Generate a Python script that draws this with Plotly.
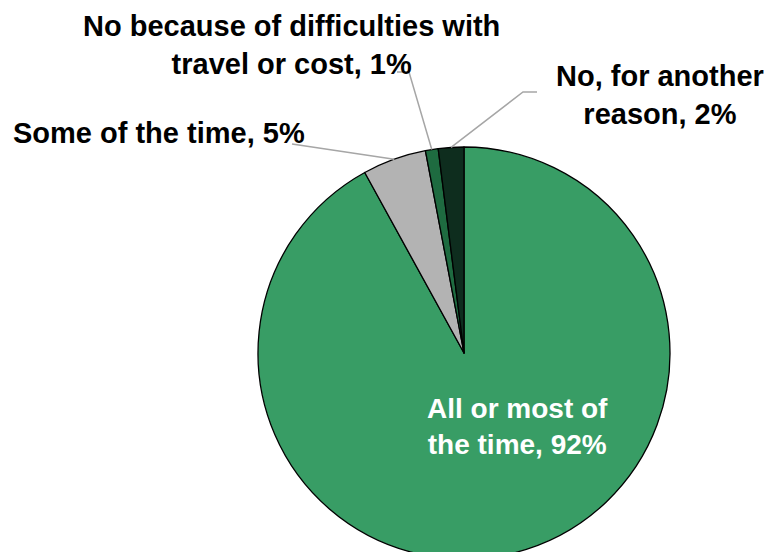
import math
import plotly.graph_objects as go

# Survey responses, in clockwise order from 12 o'clock
labels = [
    "All or most of<br>the time",
    "Some of the time",
    "No because of difficulties with<br>travel or cost",
    "No, for another<br>reason",
]
values = [92, 5, 1, 2]
colors = ["#389D65", "#B3B3B3", "#1E6B40", "#0E2D1E"]

W, H = 769, 570
CX, CY, R = 464, 353, 206  # pie centre / radius in page pixels (from top-left)


def px(x, y):
    """Page pixel (from top-left) -> paper coordinates."""
    return x / W, (H - y) / H


fig = go.Figure(
    go.Pie(
        labels=labels,
        values=values,
        sort=False,
        direction="clockwise",
        rotation=0,
        marker=dict(colors=colors, line=dict(color="#000000", width=1.3)),
        textinfo="none",
        hoverinfo="label+percent",
        showlegend=False,
        domain=dict(x=[(CX - R) / W, (CX + R) / W], y=[(H - CY - R) / H, (H - CY + R) / H]),
    )
)

# slice mid-angles (degrees clockwise from 12 o'clock), from the data
total = sum(values)
mid = []
acc = 0
for v in values:
    mid.append((acc + v / 2) / total * 360)
    acc += v


def edge(i):
    a = math.radians(mid[i])
    return CX + R * math.sin(a), CY - R * math.cos(a)


# label positions (centre of text block) and leader-line start points
label_pos = {0: (517, 426), 1: (159, 133), 2: (291, 45), 3: (660, 95)}
leaders = {
    1: [(292, 144)],
    2: [(397, 72), (409, 72)],
    3: [(537, 92), (523, 92)],
}

annotations = []
for i, (lab, val) in enumerate(zip(labels, values)):
    x, y = px(*label_pos[i])
    inside = i == 0
    annotations.append(
        dict(
            x=x, y=y, xref="paper", yref="paper",
            text=f"{lab}, {val}%",
            showarrow=False,
            xanchor="center", yanchor="middle",
            align="center",
            font=dict(
                family="Liberation Sans, Arial, sans-serif",
                size=28 if inside else 29,
                color="#FFFFFF" if inside else "#000000",
                weight="bold",
            ),
        )
    )

shapes = []
for i, pts in leaders.items():
    path_pts = pts + [edge(i)]
    d = ""
    for k, (x, y) in enumerate(path_pts):
        xp, yp = px(x, y)
        d += ("M" if k == 0 else "L") + f"{xp},{yp} "
    shapes.append(
        dict(type="path", path=d.strip(), xref="paper", yref="paper",
             line=dict(color="#A6A6A6", width=1.5))
    )

fig.update_layout(
    width=W, height=H,
    margin=dict(l=0, r=0, t=0, b=0),
    paper_bgcolor="#FFFFFF",
    plot_bgcolor="#FFFFFF",
    annotations=annotations,
    shapes=shapes,
)

fig.write_html(
    "out.html",
    config={"displayModeBar": False},
    post_script="document.documentElement.style.overflow='hidden';document.body.style.overflow='hidden';",
)
